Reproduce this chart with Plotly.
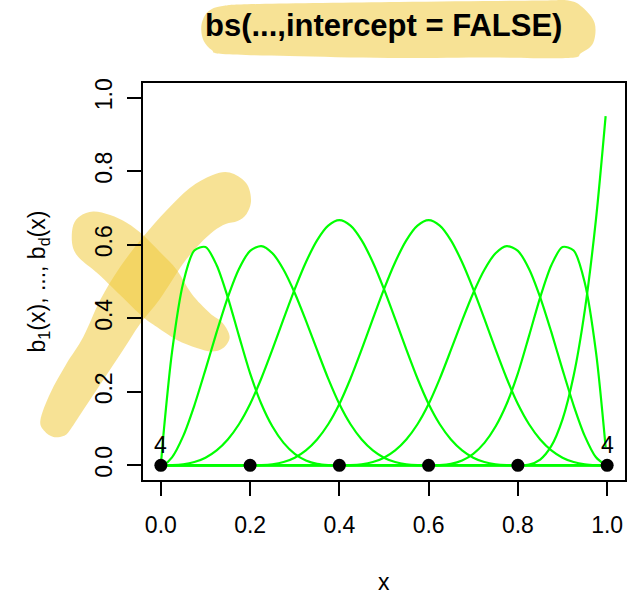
import plotly.graph_objects as go

# ---------------- data ----------------
x_grid = [0.0, 0.0067, 0.025, 0.05, 0.075, 0.1, 0.125, 0.15, 0.175, 0.2,
          0.225, 0.25, 0.275, 0.3, 0.325, 0.35, 0.375, 0.4, 0.425, 0.45,
          0.475, 0.5, 0.525, 0.55, 0.575, 0.6, 0.625, 0.65, 0.675, 0.7,
          0.725, 0.75, 0.775, 0.8, 0.825, 0.85, 0.875, 0.9, 0.925, 0.95,
          0.975, 0.9966]

b2 = [0.0, 0.095, 0.3081, 0.4961, 0.5845, 0.5938, 0.5444, 0.4570, 0.3521, 0.2500,
      0.1675, 0.1055, 0.0610, 0.0313, 0.0132, 0.0039, 0.0005, 0.0, 0.0, 0.0,
      0.0, 0.0, 0.0, 0.0, 0.0, 0.0, 0.0, 0.0, 0.0, 0.0,
      0.0, 0.0, 0.0, 0.0, 0.0, 0.0, 0.0, 0.0, 0.0, 0.0,
      0.0, 0.0]
b3 = [0.0, 0.0017, 0.0217, 0.0794, 0.1626, 0.2604, 0.3621, 0.4570, 0.5343, 0.5833,
      0.5962, 0.5768, 0.5321, 0.4688, 0.3937, 0.3138, 0.2358, 0.1667, 0.1117, 0.0703,
      0.0407, 0.0208, 0.0088, 0.0026, 0.0003, 0.0, 0.0, 0.0, 0.0, 0.0,
      0.0, 0.0, 0.0, 0.0, 0.0, 0.0, 0.0, 0.0, 0.0, 0.0,
      0.0, 0.0]
b4 = [0.0, 0.0, 0.0003, 0.0026, 0.0088, 0.0208, 0.0407, 0.0703, 0.1117, 0.1667,
      0.2360, 0.3151, 0.3981, 0.4792, 0.5524, 0.6120, 0.6520, 0.6667, 0.6520, 0.6120,
      0.5524, 0.4792, 0.3981, 0.3151, 0.2360, 0.1667, 0.1117, 0.0703, 0.0407, 0.0208,
      0.0088, 0.0026, 0.0003, 0.0, 0.0, 0.0, 0.0, 0.0, 0.0, 0.0,
      0.0, 0.0]
b5 = [0.0, 0.0, 0.0, 0.0, 0.0, 0.0, 0.0, 0.0, 0.0, 0.0,
      0.0003, 0.0026, 0.0088, 0.0208, 0.0407, 0.0703, 0.1117, 0.1667, 0.2360, 0.3151,
      0.3981, 0.4792, 0.5524, 0.6120, 0.6520, 0.6667, 0.6520, 0.6120, 0.5524, 0.4792,
      0.3981, 0.3151, 0.2360, 0.1667, 0.1117, 0.0703, 0.0407, 0.0208, 0.0088, 0.0026,
      0.0003, 0.0]
b6 = [0.0, 0.0, 0.0, 0.0, 0.0, 0.0, 0.0, 0.0, 0.0, 0.0,
      0.0, 0.0, 0.0, 0.0, 0.0, 0.0, 0.0, 0.0, 0.0003, 0.0026,
      0.0088, 0.0208, 0.0407, 0.0703, 0.1117, 0.1667, 0.2358, 0.3138, 0.3937, 0.4688,
      0.5321, 0.5768, 0.5962, 0.5833, 0.5343, 0.4570, 0.3621, 0.2604, 0.1626, 0.0794,
      0.0217, 0.0004]
b7 = [0.0, 0.0, 0.0, 0.0, 0.0, 0.0, 0.0, 0.0, 0.0, 0.0,
      0.0, 0.0, 0.0, 0.0, 0.0, 0.0, 0.0, 0.0, 0.0, 0.0,
      0.0, 0.0, 0.0, 0.0, 0.0, 0.0, 0.0005, 0.0039, 0.0132, 0.0313,
      0.0610, 0.1055, 0.1675, 0.2500, 0.3521, 0.4570, 0.5444, 0.5938, 0.5845, 0.4961,
      0.3081, 0.0497]
b8 = [0.0, 0.0, 0.0, 0.0, 0.0, 0.0, 0.0, 0.0, 0.0, 0.0,
      0.0, 0.0, 0.0, 0.0, 0.0, 0.0, 0.0, 0.0, 0.0, 0.0,
      0.0, 0.0, 0.0, 0.0, 0.0, 0.0, 0.0, 0.0, 0.0, 0.0,
      0.0, 0.0, 0.0, 0.0, 0.0020, 0.0156, 0.0527, 0.1250, 0.2441, 0.4219,
      0.6699, 0.95]

basis = [b2, b3, b4, b5, b6, b7, b8]

knots_x = [0.0, 0.2, 0.4, 0.6, 0.8, 1.0]
knots_y = [0.0, 0.0, 0.0, 0.0, 0.0, 0.0]
mult_labels = [(0.0, "4"), (1.0, "4")]

tick_vals = [0.0, 0.2, 0.4, 0.6, 0.8, 1.0]
tick_text = ["0.0", "0.2", "0.4", "0.6", "0.8", "1.0"]

title_text = "bs(...,intercept = FALSE)"
x_title = "x"
y_title = "b<sub>1</sub>(x), ..., b<sub>d</sub>(x)"

# ---------------- layout geometry ----------------
W, H = 639, 595
L, R, T, B = 143, 12, 83, 115
PW, PH = W - L - R, H - T - B
PB = H - B  # plot bottom in px

FONT = "Liberation Sans, Arial, Helvetica, sans-serif"
GREEN = "#00ff00"
HL = "rgba(240,201,60,0.54)"


def px2paper(px, py):
    return (px - L) / PW, (PB - py) / PH


def smooth_path(pts):
    n = len(pts)
    P = [px2paper(*p) for p in pts]
    d = "M %.5f,%.5f " % P[0]
    for i in range(n):
        p0 = P[i - 1]
        p1 = P[i]
        p2 = P[(i + 1) % n]
        p3 = P[(i + 2) % n]
        c1 = (p1[0] + (p2[0] - p0[0]) / 6, p1[1] + (p2[1] - p0[1]) / 6)
        c2 = (p2[0] - (p3[0] - p1[0]) / 6, p2[1] - (p3[1] - p1[1]) / 6)
        d += "C %.5f,%.5f %.5f,%.5f %.5f,%.5f " % (c1 + c2 + p2)
    return d + "Z"


title_blob = [(203, 20), (209, 11), (223, 6), (260, 4), (400, 2), (540, 0.5),
              (570, 0.5), (584, 7), (596.5, 23), (595, 43), (583, 53),
              (570, 58), (490, 57.5), (390, 58), (290, 56), (223, 54),
              (212, 50), (204, 41), (201.5, 30)]

stroke_a = [(40, 420), (44, 431), (53, 437), (63, 436), (69, 431),
            (83, 410), (103, 380), (123, 350), (140, 324), (160, 299),
            (183, 264), (200, 244), (214, 231), (226, 224), (238, 221),
            (247, 214), (251.5, 200), (246.5, 183), (230, 172.5),
            (213, 175), (190, 188), (167, 210), (143, 237), (120, 267),
            (100, 300), (83, 337), (66, 364), (50, 393)]

stroke_b = [(71.5, 240), (73, 225), (80, 216), (93, 211.5), (110, 215),
            (127, 223), (143, 235), (160, 252), (177, 270), (192, 294),
            (210, 313), (223, 323), (230, 337), (223.5, 348), (212, 351.5),
            (197, 348), (177, 340), (157, 327), (143, 317), (120, 295),
            (97, 273), (81, 260), (74, 251)]

shapes = [dict(type="path", xref="paper", yref="paper", layer="below",
               path=smooth_path(p), fillcolor=HL, line=dict(width=0))
          for p in (title_blob, stroke_a, stroke_b)]

fig = go.Figure()
for yv in basis:
    fig.add_trace(go.Scatter(x=x_grid, y=yv, mode="lines",
                             line=dict(color=GREEN, width=2.2, shape="spline", smoothing=0.8),
                             hoverinfo="skip", showlegend=False))
fig.add_trace(go.Scatter(x=knots_x, y=knots_y, mode="markers",
                         marker=dict(color="black", size=13),
                         showlegend=False, hoverinfo="skip"))

annotations = []
for kx, lab in mult_labels:
    annotations.append(dict(x=kx, y=0.055, xref="x", yref="y", text=lab, showarrow=False,
                            xanchor="center", yanchor="middle",
                            font=dict(family=FONT, size=23, color="black")))

tx, ty = px2paper(384, 25)
annotations.append(dict(x=tx, y=ty, xref="paper", yref="paper", text="<b>%s</b>" % title_text,
                        showarrow=False, xanchor="center", yanchor="middle",
                        font=dict(family=FONT, size=31, color="black")))
xx, xy = px2paper(385, 582)
annotations.append(dict(x=xx, y=xy, xref="paper", yref="paper", text=x_title,
                        showarrow=False, xanchor="center", yanchor="middle",
                        font=dict(family=FONT, size=23, color="black")))
yx, yy = px2paper(38, 281)
annotations.append(dict(x=yx, y=yy, xref="paper", yref="paper", text=y_title,
                        showarrow=False, xanchor="center", yanchor="middle", textangle=-90,
                        font=dict(family=FONT, size=23, color="black")))

axis_common = dict(tickvals=tick_vals, ticktext=tick_text, ticks="outside", ticklen=14,
                   tickwidth=2, tickcolor="black", showline=True, linewidth=2,
                   linecolor="black", mirror=True, showgrid=False, zeroline=False,
                   tickfont=dict(family=FONT, size=23, color="black"))

fig.update_layout(
    width=W, height=H, margin=dict(l=L, r=R, t=T, b=B, pad=0),
    paper_bgcolor="white", plot_bgcolor="rgba(0,0,0,0)",
    xaxis=dict(range=[-0.04, 1.04], ticklabelstandoff=9, **axis_common),
    yaxis=dict(range=[-0.04, 1.04], tickangle=-90, ticklabelstandoff=6, **axis_common),
    shapes=shapes, annotations=annotations, showlegend=False,
)

fig.write_html("out.html")
